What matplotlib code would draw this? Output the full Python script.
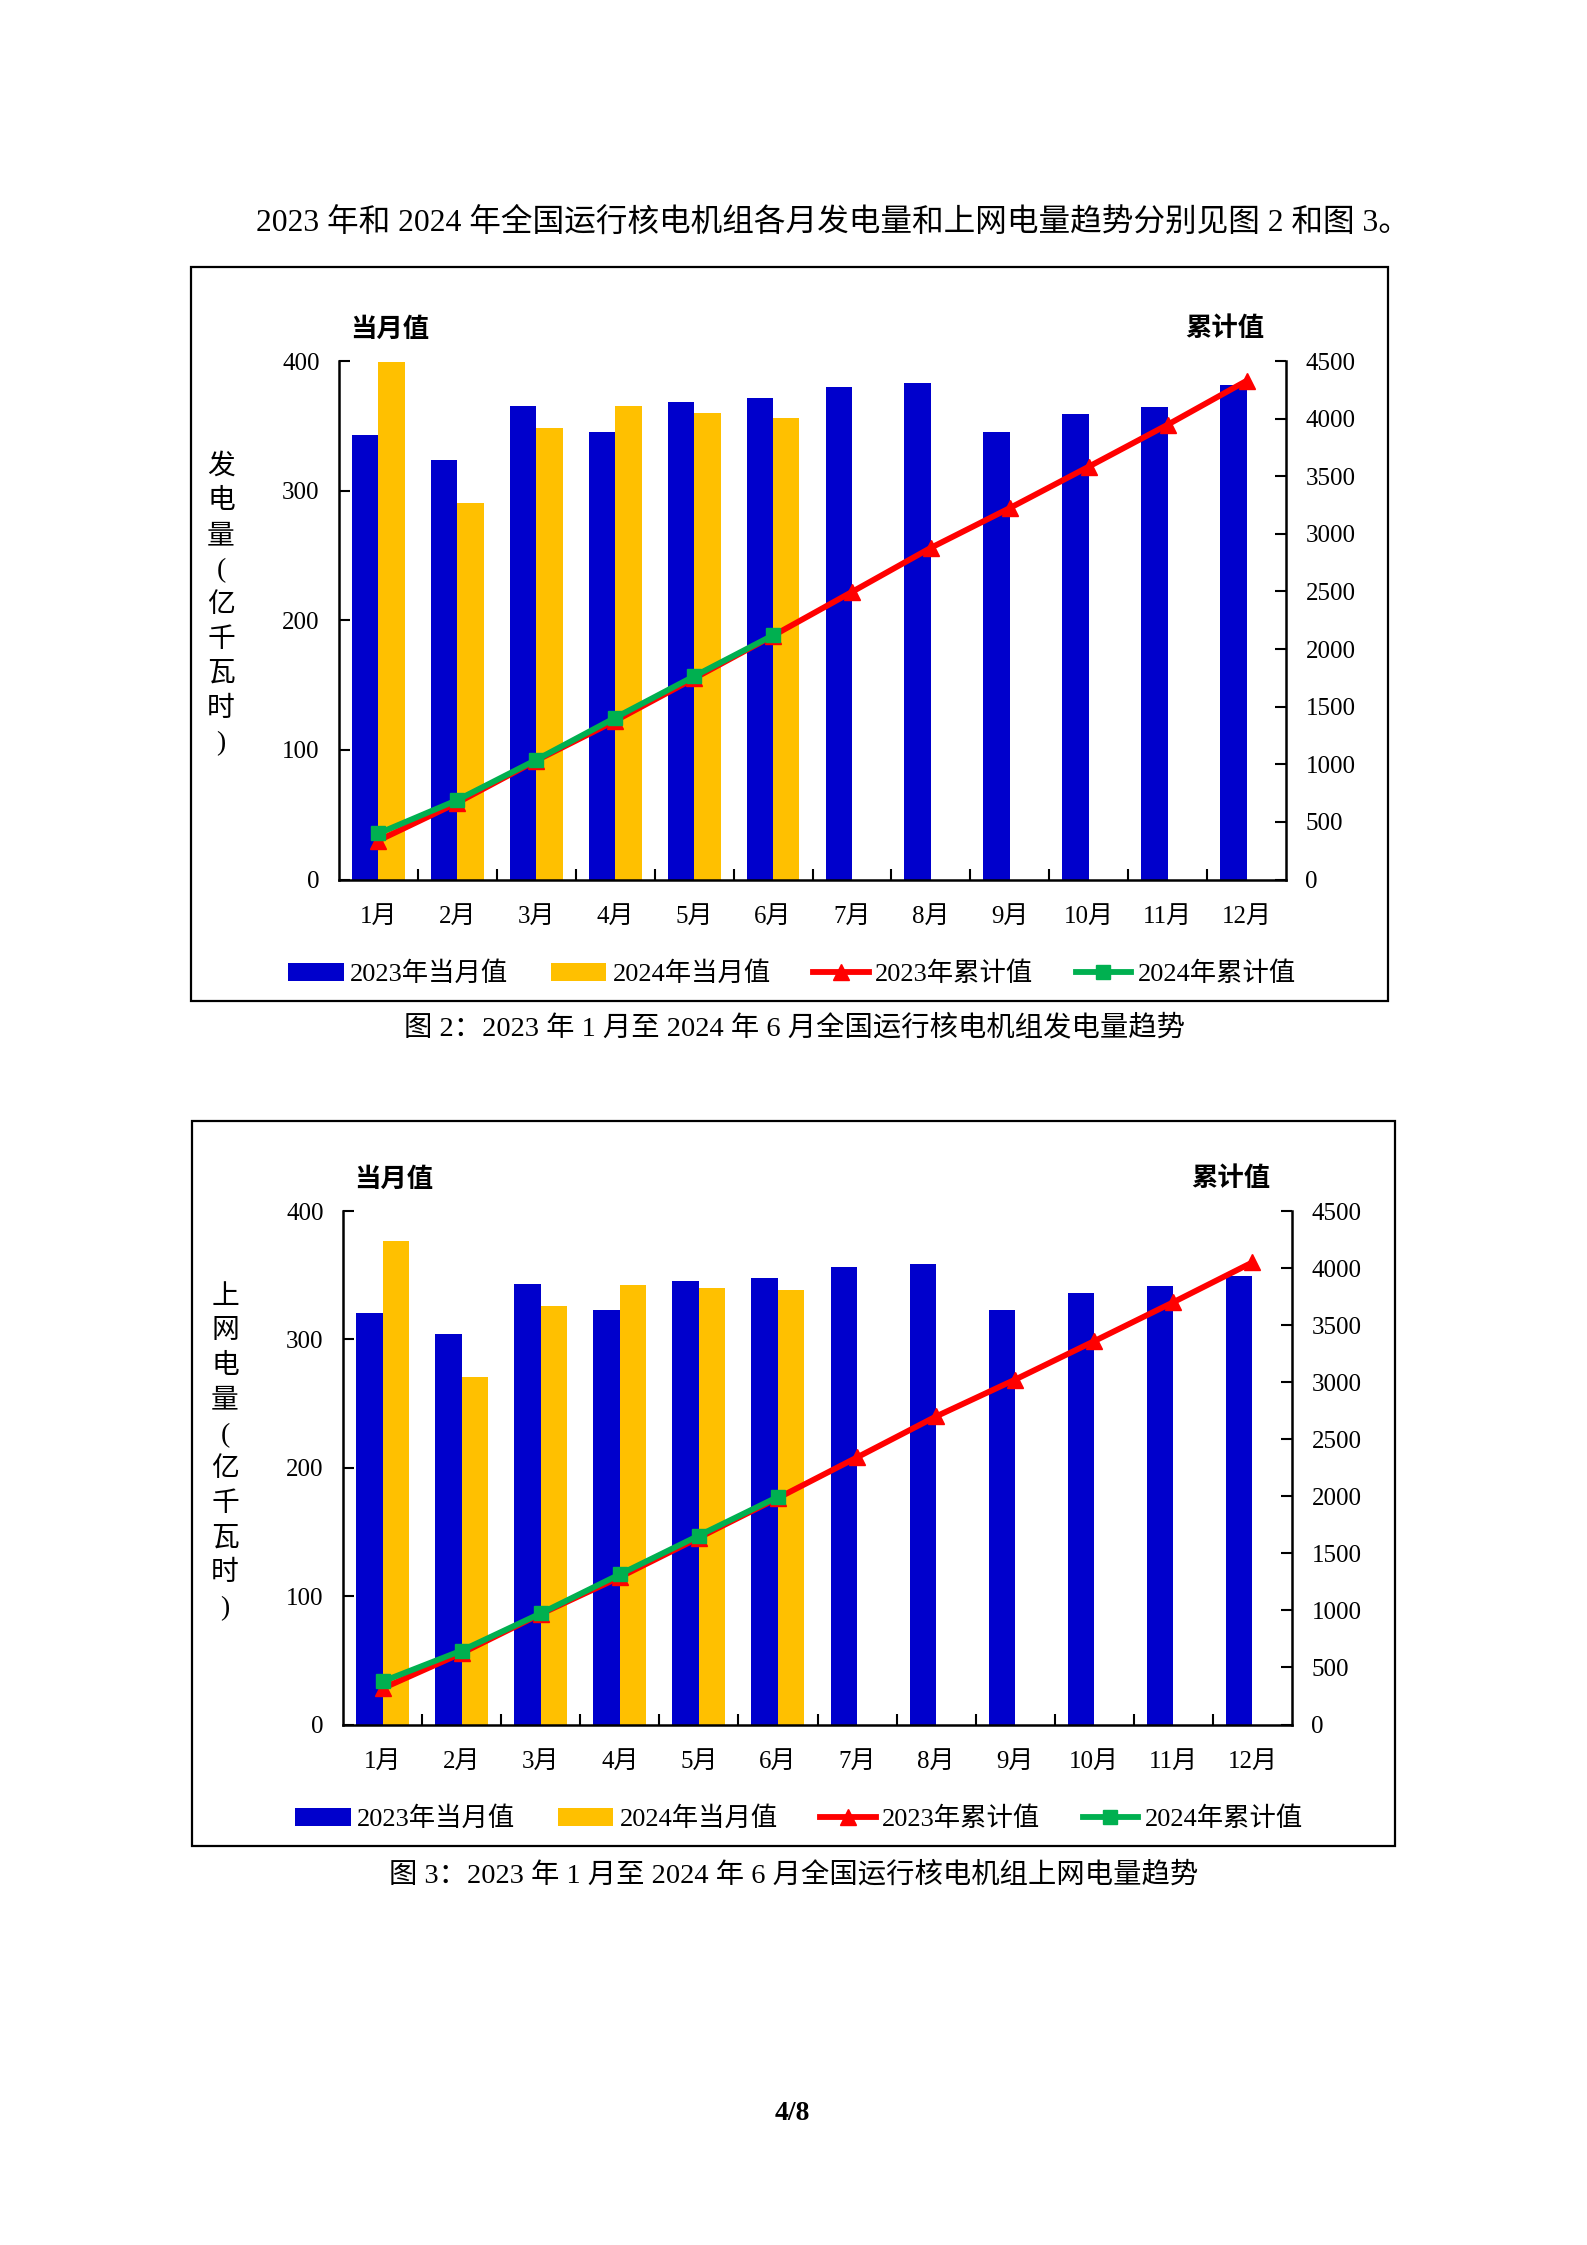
import numpy as np
import matplotlib
matplotlib.use("Agg")
import matplotlib.pyplot as plt
from matplotlib.patches import Rectangle, Patch
from matplotlib.lines import Line2D

plt.rcParams['font.family'] = ['Liberation Serif', 'Noto Sans CJK SC', 'DejaVu Sans']

months = ['1月', '2月', '3月', '4月', '5月', '6月', '7月', '8月', '9月', '10月', '11月', '12月']

# 图2 发电量（亿千瓦时）
gen_2023 = [342.8, 323.6, 365.2, 345.0, 368.1, 371.2, 379.9, 382.7, 345.0, 359.1, 364.2, 381.2]
gen_2024 = [399.5, 290.4, 348.2, 365.2, 359.7, 355.9]
gen_cum_2023 = [338, 666, 1032, 1377, 1745, 2116, 2496, 2879, 3224, 3583, 3947, 4328]
gen_cum_2024 = [400, 690, 1039, 1404, 1764, 2120]

# 图3 上网电量（亿千瓦时）
grid_2023 = [320.5, 304.4, 343.1, 323.1, 345.7, 348.0, 356.4, 359.0, 323.1, 336.3, 341.8, 349.0]
grid_2024 = [376.7, 270.8, 326.0, 342.5, 340.2, 338.6]
grid_cum_2023 = [316, 625, 968, 1291, 1637, 1985, 2341, 2700, 3023, 3360, 3701, 4050]
grid_cum_2024 = [377, 648, 974, 1316, 1656, 1995]

legend_labels = ['2023年当月值', '2024年当月值', '2023年累计值', '2024年累计值']

BLUE = '#0000CC'
YELLOW = '#FFC000'
RED = '#FF0000'
GREEN = '#00B050'

W, H = 1587, 2245
fig = plt.figure(figsize=(W / 100, H / 100), dpi=100)


def fx(x):
    return x / W


def fy(y):
    return 1 - y / H


def box(l, t, r, b):
    fig.patches.append(Rectangle((fx(l), fy(b)), fx(r) - fx(l), fy(t) - fy(b),
                                 transform=fig.transFigure, fill=False,
                                 edgecolor='black', linewidth=1.6))


def chart(l, t, r, b, monthly_a, monthly_b, cum_a, cum_b, ylabel, legend_x, legend_y):
    ax = fig.add_axes([fx(l), fy(b), fx(r) - fx(l), fy(t) - fy(b)])
    ax2 = ax.twinx()
    x = np.arange(len(months))
    bw = 0.335
    ax.bar(x - bw / 2, monthly_a, width=bw, color=BLUE, zorder=2)
    ax.bar(np.arange(len(monthly_b)) + bw / 2, monthly_b, width=bw, color=YELLOW, zorder=2)
    ax.set_xlim(-0.5, len(months) - 0.5)
    ax.set_ylim(0, 400)
    ax.set_yticks(range(0, 401, 100))
    ax.set_xticks(x)
    ax.set_xticklabels(months)
    ax.set_xticks(np.arange(0.5, len(months) - 1, 1.0), minor=True)
    ax.tick_params(axis='x', which='major', length=0, pad=19, labelsize=18)
    ax.tick_params(axis='x', which='minor', direction='in', length=8, width=1.5)
    ax.tick_params(axis='y', direction='in', length=8, width=1.5, pad=14, labelsize=18)
    for s in ['top', 'right']:
        ax.spines[s].set_visible(False)
    for s in ['left', 'bottom']:
        ax.spines[s].set_linewidth(1.8)

    ax2.plot(x, cum_a, color=RED, lw=4.2, marker='^', ms=11, zorder=3)
    ax2.plot(np.arange(len(cum_b)), cum_b, color=GREEN, lw=4.2, marker='s', ms=10, zorder=4)
    ax2.set_ylim(0, 4500)
    ax2.set_yticks(range(0, 4501, 500))
    ax2.tick_params(axis='y', direction='in', length=8, width=1.5, pad=14, labelsize=18)
    for s in ['top', 'left', 'bottom']:
        ax2.spines[s].set_visible(False)
    ax2.spines['right'].set_linewidth(1.8)

    fig.text(fx(l + 51), fy(t - 32), '当月值', ha='center', va='center',
             fontsize=19, fontweight='bold', family=['Noto Sans CJK SC'])
    fig.text(fx(r - 61), fy(t - 32), '累计值', ha='center', va='center',
             fontsize=19, fontweight='bold', family=['Noto Sans CJK SC'])
    fig.text(fx(l - 118), fy((t + b) / 2 - 15), '\n'.join(ylabel), ha='center', va='center',
             multialignment='center', fontsize=20, linespacing=1.5)

    handles = [Patch(facecolor=BLUE), Patch(facecolor=YELLOW),
               Line2D([], [], color=RED, lw=4.2, marker='^', ms=11),
               Line2D([], [], color=GREEN, lw=4.2, marker='s', ms=10)]
    fig.legend(handles, legend_labels, loc='center', bbox_to_anchor=(fx(legend_x), fy(legend_y)),
               ncol=4, frameon=False, fontsize=19, handlelength=2.1, handleheight=0.65,
               handletextpad=0.25, columnspacing=1.6, numpoints=1)


fig.text(fx(256), fy(223), '2023 年和 2024 年全国运行核电机组各月发电量和上网电量趋势分别见图 2 和图 3。',
         ha='left', va='center', fontsize=22.8)

box(191, 267, 1388, 1001)
chart(339, 361, 1286, 879.5, gen_2023, gen_2024, gen_cum_2023, gen_cum_2024,
      ['发', '电', '量', '(', '亿', '千', '瓦', '时', ')'], 792, 974)
fig.text(fx(794), fy(1028), '图 2：2023 年 1 月至 2024 年 6 月全国运行核电机组发电量趋势',
         ha='center', va='center', fontsize=20.4)

box(192, 1121, 1395, 1846)
chart(343, 1211, 1292, 1724.5, grid_2023, grid_2024, grid_cum_2023, grid_cum_2024,
      ['上', '网', '电', '量', '(', '亿', '千', '瓦', '时', ')'], 799, 1819)
fig.text(fx(794), fy(1875), '图 3：2023 年 1 月至 2024 年 6 月全国运行核电机组上网电量趋势',
         ha='center', va='center', fontsize=20.4)

fig.text(fx(792), fy(2114), '4/8', ha='center', va='center', fontsize=20, fontweight='bold')

fig.savefig('out.png', dpi=100)
